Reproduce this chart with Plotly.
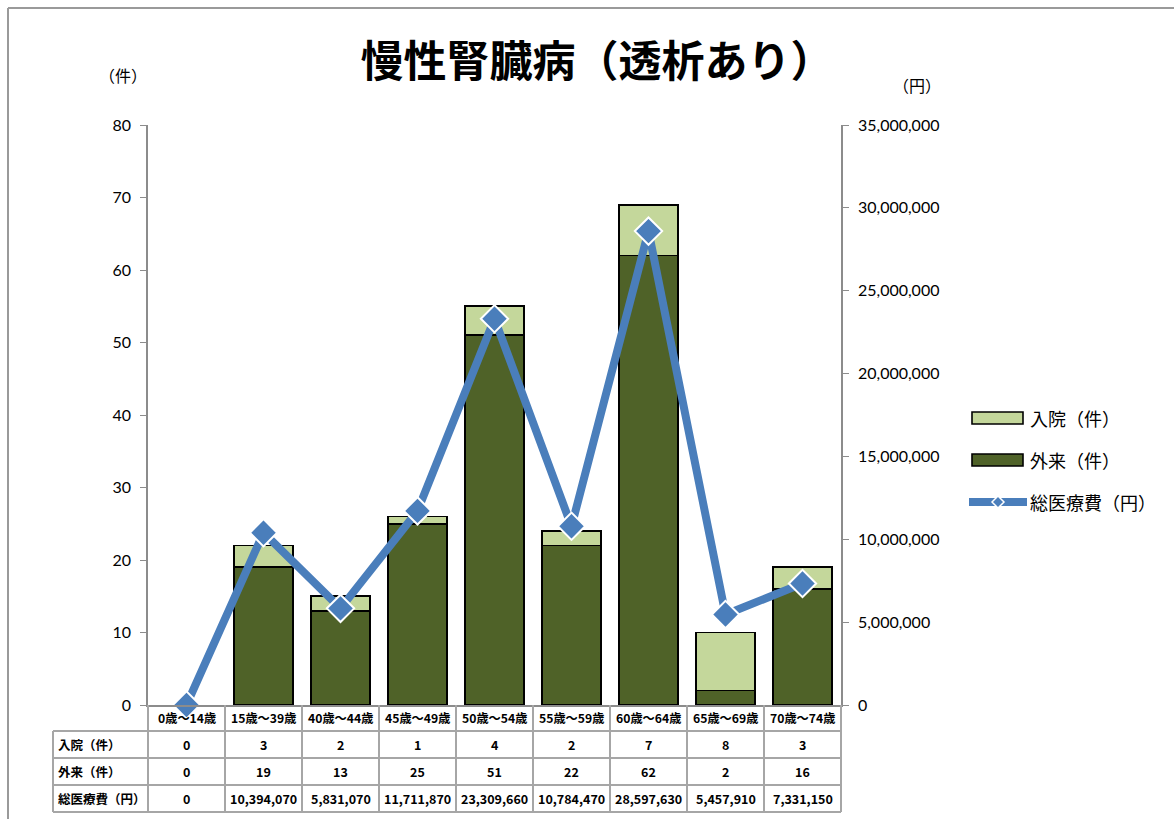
import plotly.graph_objects as go

# ---- data ----
categories = ["0歳～14歳", "15歳～39歳", "40歳～44歳", "45歳～49歳", "50歳～54歳",
              "55歳～59歳", "60歳～64歳", "65歳～69歳", "70歳～74歳"]
inpatient = [0, 3, 2, 1, 4, 2, 7, 8, 3]            # 入院(件)
outpatient = [0, 19, 13, 25, 51, 22, 62, 2, 16]    # 外来(件)
total_cost = [0, 10394070, 5831070, 11711870, 23309660, 10784470,
              28597630, 5457910, 7331150]           # 総医療費(円)

row_labels = ["入院（件）", "外来（件）", "総医療費（円）"]
left_ticks = list(range(0, 81, 10))
right_ticks = list(range(0, 35000001, 5000000))

# ---- layout geometry (pixels) ----
W, H = 1174, 819
L, R, T, B = 148, 841, 125, 705
PW, PH = R - L, B - T

def px(x):
    return (x - L) / PW

def py(y):
    return (B - y) / PH

C_IN = "#c4d79b"
C_OUT = "#4f6228"
C_LINE = "#4a7ebb"
C_GRID = "#a6a6a6"
JP = "Noto Sans CJK JP"
NUM = "Lato"

def edge_widths(vals):
    # no outline on empty segments
    return [0 if v == 0 else 1.6 for v in vals]

fig = go.Figure()
fig.add_trace(go.Bar(x=categories, y=outpatient, name="外来(件)",
                     marker=dict(color=C_OUT,
                                 line=dict(color="black", width=edge_widths(outpatient))),
                     width=0.77))
fig.add_trace(go.Bar(x=categories, y=inpatient, name="入院(件)",
                     marker=dict(color=C_IN,
                                 line=dict(color="black", width=edge_widths(inpatient))),
                     width=0.77))
fig.add_trace(go.Scatter(x=categories, y=total_cost, name="総医療費(円)", yaxis="y2",
                         mode="lines+markers", cliponaxis=False,
                         line=dict(color=C_LINE, width=8),
                         marker=dict(symbol="diamond", size=21, color=C_LINE,
                                     line=dict(color="white", width=2))))

shapes = []
annotations = []

# outer frame
shapes.append(dict(type="line", xref="paper", yref="paper",
                   x0=px(8), x1=px(W), y0=py(8), y1=py(8),
                   line=dict(color="#9a9a9a", width=2)))
shapes.append(dict(type="line", xref="paper", yref="paper",
                   x0=px(8), x1=px(8), y0=py(8), y1=py(H),
                   line=dict(color="#9a9a9a", width=2)))

# data table under the plot
row_y = [731, 758, 785, 812]
col_w = PW / len(categories)
for yy in row_y:
    shapes.append(dict(type="line", xref="paper", yref="paper",
                       x0=px(53), x1=px(R), y0=py(yy), y1=py(yy),
                       line=dict(color=C_GRID, width=2)))
for k in range(len(categories) + 1):
    xx = L + k * col_w
    shapes.append(dict(type="line", xref="paper", yref="paper",
                       x0=px(xx), x1=px(xx), y0=py(B), y1=py(row_y[-1]),
                       line=dict(color=C_GRID, width=2)))
shapes.append(dict(type="line", xref="paper", yref="paper",
                   x0=px(53), x1=px(53), y0=py(row_y[0]), y1=py(row_y[-1]),
                   line=dict(color=C_GRID, width=2)))

tfont = dict(family=JP, size=12.5, color="black", weight="bold")
for i, c in enumerate(categories):
    annotations.append(dict(x=c, xref="x", y=py((B + row_y[0]) / 2), yref="paper",
                            text=c, showarrow=False, font=dict(family=JP, size=12.2,
                            color="black", weight="bold"), xanchor="center", yanchor="middle"))
rows = [inpatient, outpatient, total_cost]
for r, (lab, vals) in enumerate(zip(row_labels, rows)):
    yc = py((row_y[r] + row_y[r + 1]) / 2)
    annotations.append(dict(x=px(56), xref="paper", y=yc, yref="paper", text=lab,
                            showarrow=False, font=tfont, xanchor="left", yanchor="middle"))
    for c, v in zip(categories, vals):
        annotations.append(dict(x=c, xref="x", y=yc, yref="paper", text=f"{v:,}",
                                showarrow=False, font=tfont, xanchor="center",
                                yanchor="middle"))

# unit labels
annotations.append(dict(x=px(123), xref="paper", y=py(75), yref="paper", text="（件）",
                        showarrow=False, font=dict(family=JP, size=16, color="black"),
                        xanchor="center", yanchor="middle"))
annotations.append(dict(x=px(917), xref="paper", y=py(85), yref="paper", text="（円）",
                        showarrow=False, font=dict(family=JP, size=16, color="black"),
                        xanchor="center", yanchor="middle"))

# legend
lfont = dict(family=JP, size=18, color="black")
for name, color, yc in [("入院（件）", C_IN, 418), ("外来（件）", C_OUT, 460)]:
    shapes.append(dict(type="rect", xref="paper", yref="paper",
                       x0=px(972), x1=px(1023), y0=py(yc - 6), y1=py(yc + 6),
                       fillcolor=color, line=dict(color="black", width=1.6)))
    annotations.append(dict(x=px(1028), xref="paper", y=py(yc), yref="paper",
                            text=name, showarrow=False, font=lfont,
                            xanchor="left", yanchor="middle"))
ly = 502
shapes.append(dict(type="line", xref="paper", yref="paper",
                   x0=px(969), x1=px(1027), y0=py(ly), y1=py(ly),
                   line=dict(color=C_LINE, width=8)))
cx, d = 998, 6
shapes.append(dict(type="path", xref="paper", yref="paper",
                   path=(f"M {px(cx - d)} {py(ly)} L {px(cx)} {py(ly - d)} "
                         f"L {px(cx + d)} {py(ly)} L {px(cx)} {py(ly + d)} Z"),
                   fillcolor=C_LINE, line=dict(color="white", width=1.5)))
annotations.append(dict(x=px(1028), xref="paper", y=py(ly), yref="paper",
                        text="総医療費（円）", showarrow=False, font=lfont,
                        xanchor="left", yanchor="middle"))

fig.update_layout(
    width=W, height=H,
    margin=dict(l=L, r=W - R, t=T, b=H - B, pad=0),
    paper_bgcolor="white", plot_bgcolor="white",
    barmode="stack", bargap=0.23,
    showlegend=False,
    title=dict(text="慢性腎臓病（透析あり）", x=597 / W, xanchor="center",
               y=1 - 62 / H, yanchor="middle",
               font=dict(family=JP, size=43, color="black", weight="bold")),
    xaxis=dict(showticklabels=False, showline=True, linecolor="#8c8c8c", linewidth=1.5,
               ticks="outside", tickson="boundaries", ticklen=5, tickcolor="#8c8c8c",
               showgrid=False, zeroline=False, range=[-0.5, len(categories) - 0.5]),
    yaxis=dict(range=[0, 80], tickvals=left_ticks, showline=True, linecolor="#8c8c8c",
               linewidth=1.5, ticks="outside", ticklen=6, tickcolor="#8c8c8c",
               showgrid=False, zeroline=False, ticklabelstandoff=6,
               tickfont=dict(family=NUM, size=16, color="black")),
    yaxis2=dict(range=[0, 35000000], tickvals=right_ticks, overlaying="y", side="right",
                showline=True, linecolor="#8c8c8c", linewidth=1.5, ticks="outside",
                ticklen=6, tickcolor="#8c8c8c", showgrid=False, zeroline=False,
                tickformat=",d", ticklabelstandoff=6,
                tickfont=dict(family=NUM, size=16, color="black")),
    shapes=shapes,
    annotations=annotations,
)

fig.write_html("out.html")
